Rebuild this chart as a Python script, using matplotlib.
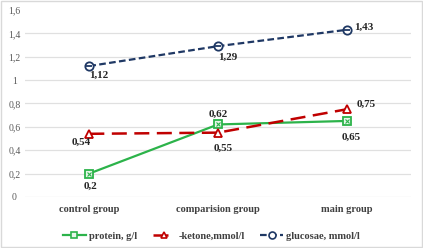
import matplotlib
matplotlib.use("Agg")
import matplotlib.pyplot as plt
from matplotlib.lines import Line2D
from matplotlib.patches import Rectangle
from matplotlib.legend_handler import HandlerTuple

categories = ["control group", "comparision group", "main group"]
protein = [0.2, 0.62, 0.65]
ketone = [0.54, 0.55, 0.75]
glucose = [1.12, 1.29, 1.43]
yticks = [0, 0.2, 0.4, 0.6, 0.8, 1.0, 1.2, 1.4, 1.6]
ytick_labels = ["0", "0,2", "0,4", "0,6", "0,8", "1", "1,2", "1,4", "1,6"]

serif = "Liberation Serif"
green = "#2cb34a"
red = "#c00000"
navy = "#1f3864"

fig = plt.figure(figsize=(4.23, 2.48), dpi=100)
fig.patches.append(Rectangle((0.002, 0.004), 0.996, 0.992, transform=fig.transFigure,
                             fill=False, edgecolor="#d9d9d9", linewidth=1))
ax = fig.add_axes([0.059, 0.206, 0.913, 0.754])
x = list(range(len(categories)))

ax.plot(x, protein, color=green, lw=1.6, marker="s", ms=6, mfc="#e6f5e9", mec=green, mew=1.3, zorder=3)
ax.plot(x, protein, ls="none", marker="x", ms=3.5, mec=green, mew=0.8, zorder=4)
ax.plot(x, ketone, color=red, lw=1.8, ls=(0, (6, 3)), marker="^", ms=6, mfc="white", mec=red, mew=1.3, zorder=3)
ax.plot(x, glucose, color=navy, lw=1.6, ls=(0, (3, 1.5)), marker="o", ms=6, mfc="white", mec=navy, mew=1.3, zorder=3)
ax.plot(x, glucose, ls="none", marker="_", ms=5, mec=navy, mew=1.3, zorder=4)

lab = dict(fontsize=8, fontweight="bold", fontfamily=serif, color="#262626")
def fmt(v):
    s = f"{v:.2f}".rstrip("0").rstrip(".")
    return s.replace(".", ",")

def put(v, i, dx, dy):
    ax.annotate(fmt(v), (i, v), xytext=(dx, dy), textcoords="offset points",
                ha="center", va="center", **lab)

put(glucose[0], 0, 7, -6.5)
put(glucose[1], 1, 7, -8)
put(glucose[2], 2, 12, 1.5)
put(ketone[0], 0, -6, -6)
put(ketone[1], 1, 4, -11)
put(ketone[2], 2, 14, 3.5)
put(protein[0], 0, 1, -9.5)
put(protein[1], 1, 0, 7)
put(protein[2], 2, 3.5, -12)

ax.set_xlim(-0.5, 2.5)
ax.set_ylim(0, 1.6)
ax.set_yticks(yticks)
ax.set_yticklabels(ytick_labels, fontfamily=serif, fontsize=7, color="#595959")
ax.set_xticks(x)
ax.set_xticklabels(categories, fontfamily=serif, fontsize=7.5, fontweight="bold", color="#404040")
ax.tick_params(axis="x", length=0, pad=6)
ax.tick_params(axis="y", length=0, pad=7.5)
for lbl in ax.get_yticklabels():
    lbl.set_horizontalalignment("center")
for yv in yticks[:-1]:
    ax.axhline(yv, color="#e0e0e0", lw=0.9, zorder=0)
for s in ax.spines.values():
    s.set_visible(False)

h_p = (Line2D([], [], color=green, lw=1.6, marker="s", ms=5, mfc="#e6f5e9", mec=green, mew=1.2),
       )
handles = [
    Line2D([], [], color=green, lw=1.6, marker="s", ms=5, mfc="#e6f5e9", mec=green, mew=1.2),
    Line2D([], [], color=red, lw=1.8, ls=(0, (6, 3)), marker="^", ms=5, mfc="white", mec=red, mew=1.2),
    Line2D([], [], color=navy, lw=1.6, ls=(0, (3, 1.5)), marker="o", ms=5, mfc="white", mec=navy, mew=1.2),
]
labels = ["protein, g/l", "-ketone,mmol/l", "glucosae, mmol/l"]
fig.legend(handles, labels, loc="center", bbox_to_anchor=(0.5, 0.048), ncol=3, frameon=False,
           prop={"family": serif, "size": 7.5, "weight": "bold"}, handlelength=2.2, columnspacing=1.5,
           handletextpad=0.3, labelcolor="#404040")

fig.savefig("out.png", dpi=100)
